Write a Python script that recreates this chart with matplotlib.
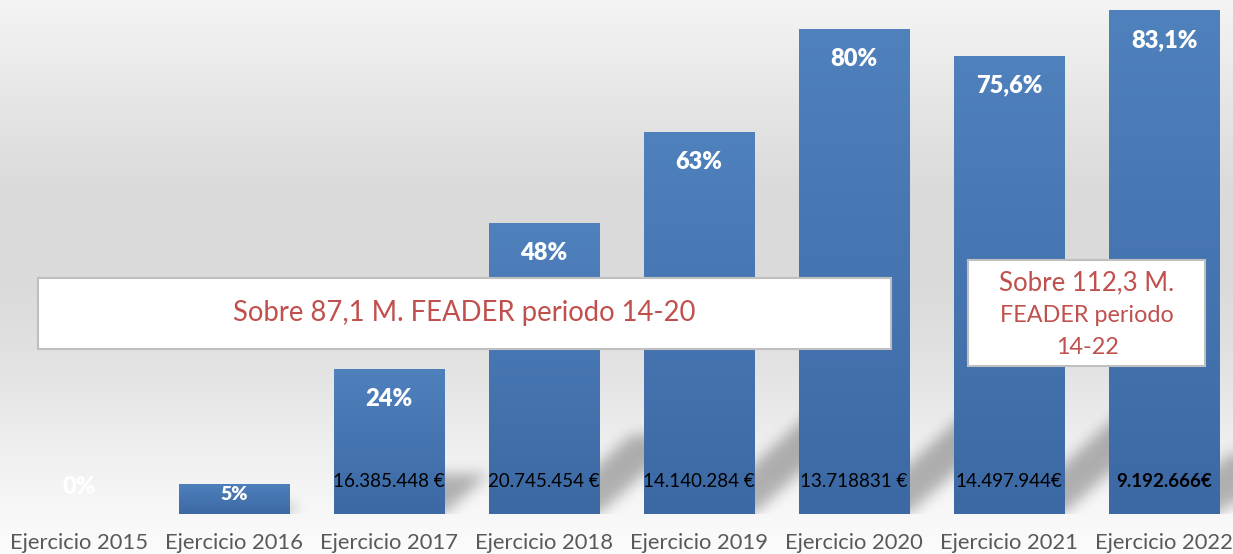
import numpy as np
import matplotlib
matplotlib.use('Agg')
import matplotlib.pyplot as plt
from matplotlib.colors import LinearSegmentedColormap
from matplotlib.patches import Rectangle

# Chart data
years = ['Ejercicio 2015', 'Ejercicio 2016', 'Ejercicio 2017', 'Ejercicio 2018',
         'Ejercicio 2019', 'Ejercicio 2020', 'Ejercicio 2021', 'Ejercicio 2022']
pct = [0, 5, 24, 48, 63, 80, 75.6, 83.1]
pct_labels = ['0%', '5%', '24%', '48%', '63%', '80%', '75,6%', '83,1%']
amounts = ['', '', '16.385.448 €', '20.745.454 €', '14.140.284 €',
           '13.718831 €', '14.497.944€', '9.192.666€']
box1_text = 'Sobre 87,1 M. FEADER periodo 14-20'
box2_lines = ['Sobre 112,3 M.', 'FEADER periodo', '14-22']

plt.rcParams['font.family'] = ['Lato', 'DejaVu Sans']

W, H = 1233, 554
fig = plt.figure(figsize=(W / 100, H / 100), dpi=100)
ax = fig.add_axes([0, 0, 1, 1])
ax.axis('off')
x0, x1 = -0.51, 7.445
y0, y1 = -6.6, 84.8
ax.set_xlim(x0, x1)
ax.set_ylim(y0, y1)

# background gradient (top to bottom)
stops_px = [0, 100, 190, 280, 360, 440, 510, 554]
stops_val = [244, 230, 218, 218, 226, 238, 247, 252]
col = np.interp(np.arange(H), stops_px, stops_val) / 255.0
bg = np.repeat(col[:, None], 2, axis=1)
ax.imshow(np.dstack([bg, bg, bg]), extent=[x0, x1, y0, y1], aspect='auto',
          origin='upper', zorder=0)

x = np.arange(len(years))
bw = 0.716

# soft perspective shadows behind the bars
px_x = W / (x1 - x0)
px_y = H / (y1 - y0)
xs = np.linspace(x0, x1, W)
ys = np.linspace(y1, y0, H)
X, Y = np.meshgrid(xs, ys)
slope = 0.9 * px_x / px_y          # data units of y per unit of x
mask = np.zeros((H, W))
for xi, v in zip(x, pct):
    if v <= 0:
        continue
    h_px = v * px_y
    lx = 0.3 * h_px / px_x
    top = slope * lx
    right = xi + bw / 2
    left = right - 0.5 * bw
    inside = (Y >= 0) & (Y <= top) & (X >= left + Y / slope) & (X <= right + Y / slope)
    mask[inside] = 1.0


def box_blur(a, r):
    k = 2 * r + 1
    p = np.pad(a, ((r, r), (0, 0)), mode='edge')
    c = np.vstack([np.zeros((1, a.shape[1])), np.cumsum(p, axis=0)])
    a = (c[k:] - c[:-k]) / k
    p = np.pad(a, ((0, 0), (r, r)), mode='edge')
    c = np.hstack([np.zeros((a.shape[0], 1)), np.cumsum(p, axis=1)])
    return (c[:, k:] - c[:, :-k]) / k


for _ in range(3):
    mask = box_blur(mask, 6)
mask[Y < 0] = 0
shadow = np.zeros((H, W, 4))
shadow[..., 3] = 0.28 * mask
ax.imshow(shadow, extent=[x0, x1, y0, y1], aspect='auto', origin='upper', zorder=1)

# bars with vertical gradient
bars = ax.bar(x, pct, width=bw, color='#4675b2', zorder=2)
bar_cmap = LinearSegmentedColormap.from_list('barg', ['#3c69a4', '#4f81bd'])
grad = np.linspace(0, 1, 256)[:, None]
for b in bars:
    if b.get_height() <= 0:
        continue
    im = ax.imshow(grad, extent=[b.get_x(), b.get_x() + b.get_width(), 0, b.get_height()],
                   cmap=bar_cmap, aspect='auto', origin='lower', zorder=2.1)
    im.set_clip_path(b)

# percentage labels
for xi, v, lab in zip(x, pct, pct_labels):
    if v == 0:
        off, fs = 27, 17
    elif v < 10:
        off, fs = -11, 14
    else:
        off, fs = -30, 17
    ax.annotate(lab, (xi, v), xytext=(0, off * 0.72), textcoords='offset points',
                ha='center', va='center', color='white', fontsize=fs,
                fontweight='heavy', zorder=4)

# amount labels
for xi, amt in zip(x, amounts):
    if not amt:
        continue
    bold = amt == amounts[-1]
    ax.text(xi, 5.3, amt, ha='center', va='center', fontsize=13.5, color='black',
            fontweight='bold' if bold else 'normal', zorder=4)

# category labels
for xi, yr in zip(x, years):
    ax.text(xi, -4.8, yr, ha='center', va='center', fontsize=15.8, color='#595959', zorder=4)

# annotation boxes
red = '#c0504d'
fig.add_artist(Rectangle((38 / W, 1 - 349 / H), (891 - 38) / W, (349 - 278) / H,
                         transform=fig.transFigure, facecolor='white',
                         edgecolor='#bfbfbf', linewidth=1.5, zorder=5))
fig.text(464 / W, 1 - 313 / H, box1_text, ha='center', va='center',
         fontsize=19.8, color=red, zorder=6)

fig.add_artist(Rectangle((968 / W, 1 - 366 / H), (1205 - 968) / W, (366 - 260) / H,
                         transform=fig.transFigure, facecolor='white',
                         edgecolor='#bfbfbf', linewidth=1.5, zorder=5))
for line, yp, fs in zip(box2_lines, [283, 316, 347], [18.5, 16.8, 16.8]):
    fig.text(1087 / W, 1 - yp / H, line, ha='center', va='center',
             fontsize=fs, color=red, zorder=6)

fig.savefig('out.png', dpi=100)
